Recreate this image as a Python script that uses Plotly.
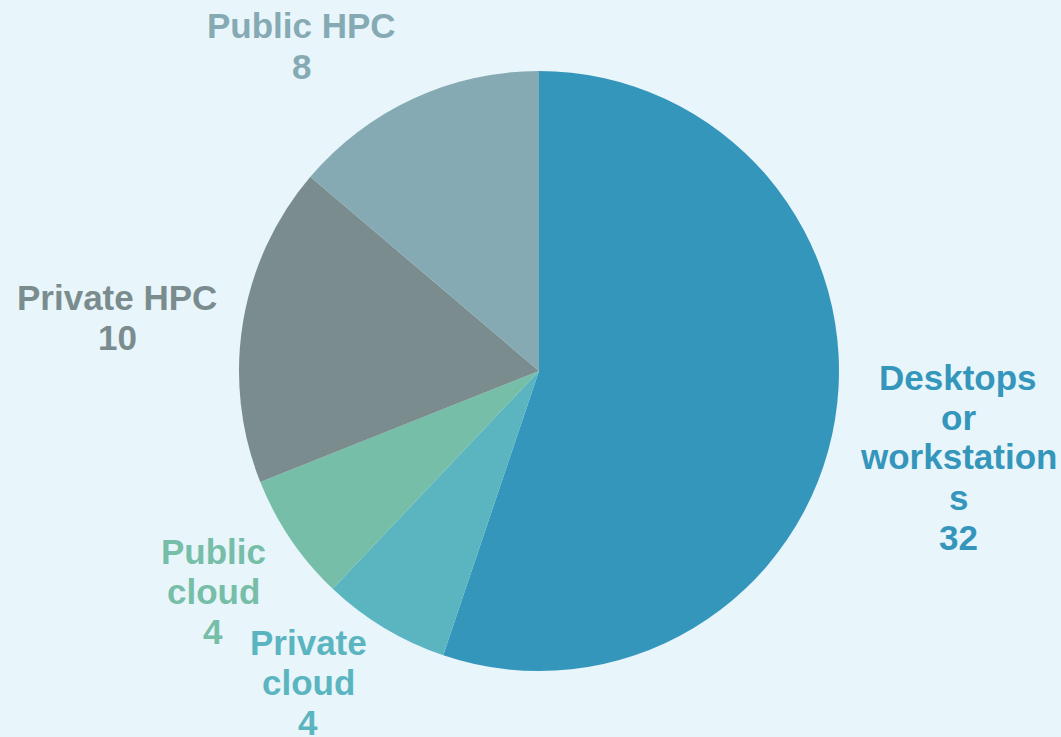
import plotly.graph_objects as go

categories = ["Desktops or workstations", "Private cloud", "Public cloud", "Private HPC", "Public HPC"]
values = [32, 4, 4, 10, 8]
label_lines = [["Desktops", "or", "workstation", "s"], ["Private", "cloud"], ["Public", "cloud"], ["Private HPC"], ["Public HPC"]]
colors = ["#3596BC", "#5AB5C0", "#76BEA8", "#7A8C8E", "#85AAB4"]
# label first-line centres in pixels (x, y)
label_pos = [(958, 377), (308, 642), (213, 551), (117, 297), (301, 26)]
line_step = 40

W, H = 1061, 737
cx, cy, r = 539, 371, 300

fig = go.Figure(go.Pie(
    labels=categories,
    values=values,
    sort=False,
    direction="clockwise",
    rotation=0,
    textinfo="none",
    hoverinfo="label+value",
    marker=dict(colors=colors, line=dict(width=0)),
    domain=dict(x=[(cx - r) / W, (cx + r) / W], y=[1 - (cy + r) / H, 1 - (cy - r) / H]),
    showlegend=False,
))

for lines, v, c, (px, py) in zip(label_lines, values, colors, label_pos):
    for i, ln in enumerate(lines + [str(v)]):
        fig.add_annotation(
            x=px / W, y=1 - (py + i * line_step) / H, xref="paper", yref="paper",
            text=f"<b>{ln}</b>", showarrow=False,
            xanchor="center", yanchor="middle", align="center",
            font=dict(family="Liberation Sans, Arial, sans-serif", size=35, color=c),
        )

fig.update_layout(
    width=W, height=H,
    margin=dict(l=0, r=0, t=0, b=0),
    paper_bgcolor="#E8F5FB",
    plot_bgcolor="#E8F5FB",
)

fig.write_html("out.html", config={"displayModeBar": False},
               post_script="document.body.style.margin='0';document.body.style.overflow='hidden';")
